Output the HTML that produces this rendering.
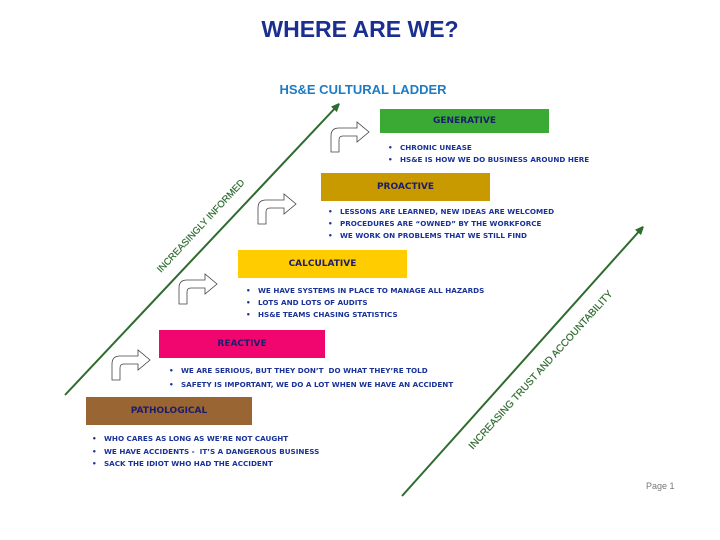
<!DOCTYPE html>
<html><head><meta charset="utf-8"><style>
body{margin:0;width:720px;height:540px;background:#fff;position:relative;overflow:hidden;font-family:"Liberation Sans",sans-serif}
.t{position:absolute;white-space:nowrap}
.b{position:absolute;font-weight:bold;font-size:9px;font-family:"DejaVu Sans",sans-serif;color:#1c1c6e;text-align:center;display:flex;align-items:center;justify-content:center}
.l{position:absolute;font-weight:bold;font-size:7.2px;font-family:"DejaVu Sans",sans-serif;color:#1a3399;white-space:nowrap}
.l span{position:absolute;left:-12px}
</style></head><body>
<div class="t" style="left:0;width:720px;text-align:center;top:16px;font-size:23px;font-weight:bold;color:#1a2f8f">WHERE ARE WE?</div>
<div class="t" style="left:263px;width:200px;text-align:center;top:82px;font-size:13px;font-weight:bold;color:#1e7bc4">HS&amp;E CULTURAL LADDER</div>
<svg width="720" height="540" style="position:absolute;left:0;top:0">
<defs><marker id="a" markerWidth="8" markerHeight="8" refX="6" refY="4" orient="auto" markerUnits="userSpaceOnUse"><path d="M0,0 L12,4 L0,8 Z" fill="#2e6b2e" transform="scale(0.8,1)"/></marker>
<path id="c" d="M0,30 V14 Q0,6 8,6 H26 V0 L38,10 L26,20 V14 H12 Q8,14 8,18 V30 Z" fill="#fff" stroke="#444" stroke-width="0.8"/></defs>
<line x1="65" y1="395" x2="338" y2="105" stroke="#2e6b2e" stroke-width="2" marker-end="url(#a)"/>
<line x1="402" y1="496" x2="642" y2="228" stroke="#2e6b2e" stroke-width="2" marker-end="url(#a)"/>
<text x="0" y="0" transform="translate(203,228) rotate(-47)" text-anchor="middle" font-size="9.5" fill="#2e6b2e" stroke="#2e6b2e" stroke-width="0.2" font-family="Liberation Sans">INCREASINGLY INFORMED</text>
<text x="0" y="0" transform="translate(543,372) rotate(-48)" text-anchor="middle" font-size="10" fill="#2e6b2e" stroke="#2e6b2e" stroke-width="0.2" font-family="Liberation Sans">INCREASING TRUST AND ACCOUNTABILITY</text>
<use href="#c" x="112" y="350"/>
<use href="#c" x="179" y="274"/>
<use href="#c" x="258" y="194"/>
<use href="#c" x="331" y="122"/>
</svg>
<div class="b" style="left:380px;top:109px;width:169px;height:24px;background:#3aaa35">GENERATIVE</div>
<div class="b" style="left:321px;top:173px;width:169px;height:28px;background:#c89a00">PROACTIVE</div>
<div class="b" style="left:238px;top:250px;width:169px;height:28px;background:#ffcc00">CALCULATIVE</div>
<div class="b" style="left:159px;top:330px;width:166px;height:28px;background:#f0066e">REACTIVE</div>
<div class="b" style="left:86px;top:397px;width:166px;height:28px;background:#996633">PATHOLOGICAL</div>

<div class="l" style="left:400px;top:143px"><span>•</span>CHRONIC UNEASE</div>
<div class="l" style="left:400px;top:155px"><span>•</span>HS&amp;E IS HOW WE DO BUSINESS AROUND HERE</div>
<div class="l" style="left:340px;top:207px"><span>•</span>LESSONS ARE LEARNED, NEW IDEAS ARE WELCOMED</div>
<div class="l" style="left:340px;top:219px"><span>•</span>PROCEDURES ARE “OWNED” BY THE WORKFORCE</div>
<div class="l" style="left:340px;top:231px"><span>•</span>WE WORK ON PROBLEMS THAT WE STILL FIND</div>
<div class="l" style="left:258px;top:286px"><span>•</span>WE HAVE SYSTEMS IN PLACE TO MANAGE ALL HAZARDS</div>
<div class="l" style="left:258px;top:298px"><span>•</span>LOTS AND LOTS OF AUDITS</div>
<div class="l" style="left:258px;top:310px"><span>•</span>HS&amp;E TEAMS CHASING STATISTICS</div>
<div class="l" style="left:181px;top:366px"><span>•</span>WE ARE SERIOUS, BUT THEY DON’T&nbsp; DO WHAT THEY’RE TOLD</div>
<div class="l" style="left:181px;top:380px"><span>•</span>SAFETY IS IMPORTANT, WE DO A LOT WHEN WE HAVE AN ACCIDENT</div>
<div class="l" style="left:104px;top:434px"><span>•</span>WHO CARES AS LONG AS WE’RE NOT CAUGHT</div>
<div class="l" style="left:104px;top:447px"><span>•</span>WE HAVE ACCIDENTS -&nbsp; IT’S A DANGEROUS BUSINESS</div>
<div class="l" style="left:104px;top:459px"><span>•</span>SACK THE IDIOT WHO HAD THE ACCIDENT</div>
<div class="t" style="left:646px;top:481px;font-size:9px;color:#777">Page 1</div>
</body></html>
